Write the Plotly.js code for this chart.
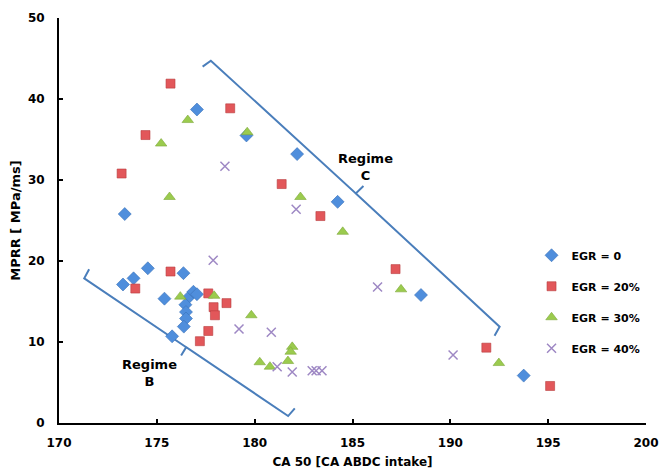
<!DOCTYPE html>
<html>
<head>
<meta charset="utf-8">
<script src="https://cdn.plot.ly/plotly-3.0.1.min.js"></script>
<style>html,body{margin:0;padding:0;background:#fff}#chart{width:660px;height:475px}</style>
</head>
<body>
<div id="chart"></div>
<script>
// Series data
const egr0_x = [173.36, 177.05, 179.58, 182.17, 184.24, 188.5, 193.75, 174.54, 176.36, 173.81, 173.27, 175.39, 176.66, 176.87, 177.05, 176.46, 176.49, 176.49, 176.38, 175.78];
const egr0_y = [25.8, 38.7, 35.5, 33.2, 27.3, 15.8, 5.85, 19.1, 18.5, 17.86, 17.1, 15.35, 15.6, 16.2, 15.9, 14.6, 13.7, 12.9, 11.9, 10.7];

const egr20_x = [175.70, 178.75, 174.42, 173.2, 175.70, 173.9, 177.63, 178.56, 177.9, 177.97, 177.63, 177.2, 181.38, 183.36, 187.2, 191.84, 195.1];
const egr20_y = [41.9, 38.85, 35.55, 30.8, 18.7, 16.6, 16.0, 14.8, 14.3, 13.3, 11.36, 10.1, 29.5, 25.55, 19.0, 9.3, 4.57];

const egr30_x = [176.58, 175.22, 179.62, 175.65, 176.2, 177.93, 179.83, 180.26, 180.78, 181.92, 181.84, 181.7, 182.34, 184.5, 187.48, 192.48];
const egr30_y = [37.4, 34.5, 35.9, 27.9, 15.6, 15.7, 13.3, 7.5, 6.95, 9.4, 8.8, 7.65, 27.9, 23.6, 16.5, 7.4];

const egr40_x = [178.48, 177.88, 179.2, 180.85, 181.15, 181.92, 182.94, 183.14, 183.44, 182.12, 186.28, 190.14];
const egr40_y = [31.7, 20.1, 11.6, 11.2, 6.95, 6.3, 6.45, 6.45, 6.45, 26.4, 16.8, 8.4];

const seriesNames = ["EGR = 0", "EGR = 20%", "EGR = 30%", "EGR = 40%"];

// Regime bracket outlines (data coordinates)
const regimeC_x = [177.34, 177.76, 185.17, 185.56, 185.17, 192.52, 192.26];
const regimeC_y = [44.0, 44.73, 28.35, 29.26, 28.35, 11.89, 10.78];
const regimeB_x = [171.54, 171.29, 176.5, 176.24, 176.5, 181.71, 182.05];
const regimeB_y = [18.98, 17.86, 9.36, 8.33, 9.36, 0.86, 1.81];

const regimeLabels = ["Regime<br>C", "Regime<br>B"];
const regimeLabel_x = [185.66, 174.63];
const regimeLabel_y = [31.6, 6.2];

const xTicks = [170, 175, 180, 185, 190, 195, 200];
const yTicks = [0, 10, 20, 30, 40, 50];

const FONT = "DejaVu Sans, Verdana, sans-serif";

const traces = [
  {x: regimeC_x, y: regimeC_y, mode: "lines", line: {color: "#4A7EBB", width: 2}, showlegend: false, hoverinfo: "skip"},
  {x: regimeB_x, y: regimeB_y, mode: "lines", line: {color: "#4A7EBB", width: 2}, showlegend: false, hoverinfo: "skip"},
  {x: egr0_x, y: egr0_y, name: seriesNames[0], mode: "markers", legendgroup: "a",
   marker: {symbol: "diamond", size: 10, color: "#4F8EDC", line: {color: "#3B72B8", width: 0.6}}},
  {x: egr20_x, y: egr20_y, name: seriesNames[1], mode: "markers", legendgroup: "b",
   marker: {symbol: "square", size: 9, color: "#E2575A", line: {color: "#B83C3E", width: 0.6}}},
  {x: egr30_x, y: egr30_y, name: seriesNames[2], mode: "markers", legendgroup: "c",
   marker: {symbol: "triangle-up", size: 10, color: "#9BCB4E", line: {color: "#7EA83A", width: 0.6}}},
  {x: egr40_x, y: egr40_y, name: seriesNames[3], mode: "markers", legendgroup: "d",
   marker: {symbol: "x-thin-open", size: 9, color: "#9E88C4", line: {color: "#9E88C4", width: 1.5}}}
];

const layout = {
  width: 660, height: 475,
  margin: {l: 59, r: 14, t: 18, b: 52},
  paper_bgcolor: "#fff", plot_bgcolor: "#fff",
  font: {family: FONT, size: 11, color: "#000", weight: "bold"},
  xaxis: {
    range: [170, 200], tickvals: xTicks, ticktext: xTicks.map(String),
    showgrid: false, zeroline: false, showline: true, linecolor: "#000", linewidth: 2,
    ticks: "inside", ticklen: 4, tickwidth: 2, tickcolor: "#000",
    ticklabelstandoff: 8, ticklabeloverflow: "allow",
    tickfont: {family: FONT, size: 12, color: "#000", weight: "bold"},
    title: {text: "CA 50 [CA ABDC intake]", standoff: 8, font: {family: FONT, size: 12, color: "#000", weight: "bold"}}
  },
  yaxis: {
    range: [0, 50], tickvals: yTicks, ticktext: yTicks.map(String),
    showgrid: false, zeroline: false, showline: true, linecolor: "#000", linewidth: 2,
    ticks: "inside", ticklen: 4, tickwidth: 2, tickcolor: "#000",
    ticklabelstandoff: 10, ticklabeloverflow: "allow",
    tickfont: {family: FONT, size: 12, color: "#000", weight: "bold"},
    title: {text: "MPRR [ MPa/ms]", standoff: 4, font: {family: FONT, size: 13, color: "#000", weight: "bold"}}
  },
  legend: {
    x: 0.805, xanchor: "left", y: 0.45, yanchor: "top",
    tracegroupgap: 12, bgcolor: "rgba(0,0,0,0)",
    font: {family: FONT, size: 11, color: "#000", weight: "bold"}
  },
  annotations: regimeLabels.map((t, i) => ({
    x: regimeLabel_x[i], y: regimeLabel_y[i], xref: "x", yref: "y",
    text: t, showarrow: false, align: "center",
    font: {family: FONT, size: 13, color: "#000", weight: "bold"}
  })),
  showlegend: true
};

Plotly.newPlot("chart", traces, layout, {displayModeBar: false, staticPlot: true});
</script>
</body>
</html>
